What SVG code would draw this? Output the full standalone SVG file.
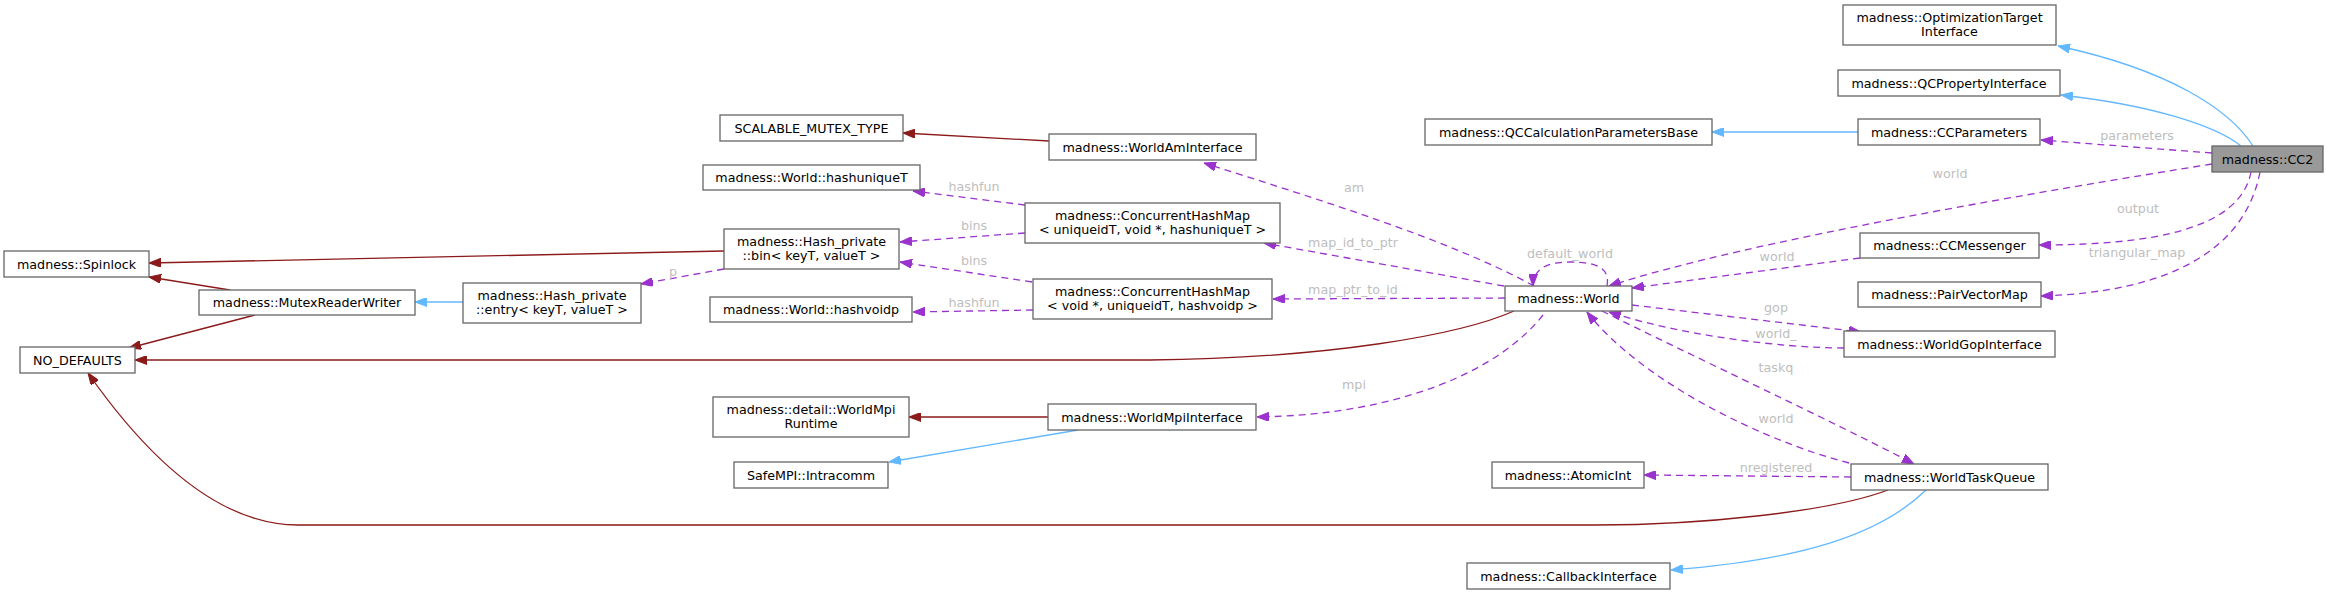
<svg xmlns="http://www.w3.org/2000/svg" width="2332" height="594" viewBox="0 0 2332 594">
<style>
.n rect{fill:#fff;stroke:#666;stroke-width:1.3}
.n text{font-family:"DejaVu Sans","Liberation Sans",sans-serif;font-size:12.7px;fill:#000;text-anchor:middle}
.e path{fill:none;stroke-width:1.3}
.pub{stroke:#63b8ff}
.prv{stroke:#8b1a1a}
.use{stroke:#9a32cd;stroke-dasharray:7,5}
.lbl{font-family:"DejaVu Sans","Liberation Sans",sans-serif;font-size:12.7px;fill:#bebebe;text-anchor:middle}
</style>
<defs>
<marker id="ab" viewBox="0 0 12 9" refX="12" refY="4.5" markerWidth="12" markerHeight="9" markerUnits="userSpaceOnUse" orient="auto"><path d="M0,0 L12,4.5 L0,9 z" fill="#63b8ff" stroke="#63b8ff"/></marker>
<marker id="ar" viewBox="0 0 12 9" refX="12" refY="4.5" markerWidth="12" markerHeight="9" markerUnits="userSpaceOnUse" orient="auto"><path d="M0,0 L12,4.5 L0,9 z" fill="#8b1a1a" stroke="#8b1a1a"/></marker>
<marker id="ap" viewBox="0 0 12 9" refX="12" refY="4.5" markerWidth="12" markerHeight="9" markerUnits="userSpaceOnUse" orient="auto"><path d="M0,0 L12,4.5 L0,9 z" fill="#9a32cd" stroke="#9a32cd"/></marker>
</defs>
<rect width="2332" height="594" fill="#fff"/>
<g id="edges" class="e">
<path class="pub" marker-end="url(#ab)" d="M2253,146 C2230,110 2170,70 2058,46"/>
<path class="pub" marker-end="url(#ab)" d="M2241,146 C2215,125 2150,105 2061,95"/>
<path class="pub" marker-end="url(#ab)" d="M1858,132 L1712,132"/>
<path class="pub" marker-end="url(#ab)" d="M1926,490 C1880,535 1800,560 1671,570"/>
<path class="pub" marker-end="url(#ab)" d="M463,302 L415,302"/>
<path class="pub" marker-end="url(#ab)" d="M1078,430 L889,462"/>
<path class="prv" marker-end="url(#ar)" d="M1888,490 C1830,512 1700,525 1596,525 L298,525 C240,525 170,490 88,373"/>
<path class="prv" marker-end="url(#ar)" d="M1514,311 C1460,335 1330,358 1150,360 L135,360"/>
<path class="prv" marker-end="url(#ar)" d="M255,315 L129,348"/>
<path class="prv" marker-end="url(#ar)" d="M230,290 L149,277"/>
<path class="prv" marker-end="url(#ar)" d="M724,251 L149,263"/>
<path class="prv" marker-end="url(#ar)" d="M1049,141 L903,133"/>
<path class="prv" marker-end="url(#ar)" d="M1048,417 L909,417"/>
<path class="use" marker-end="url(#ap)" d="M2212,153 L2041,140"/>
<path class="use" marker-end="url(#ap)" d="M2212,164 C2050,190 1750,240 1609,286"/>
<path class="use" marker-end="url(#ap)" d="M2251,172 C2240,230 2150,245 2039,245"/>
<path class="use" marker-end="url(#ap)" d="M2260,172 C2245,250 2170,292 2041,296"/>
<path class="use" marker-end="url(#ap)" d="M1860,258 L1632,288"/>
<path class="use" marker-end="url(#ap)" d="M1607,286 C1610,270 1600,262 1570,262 C1545,262 1533,270 1533,286"/>
<path class="use" marker-end="url(#ap)" d="M1632,305 L1861,332"/>
<path class="use" marker-end="url(#ap)" d="M1844,348 C1780,348 1680,335 1609,312"/>
<path class="use" marker-end="url(#ap)" d="M1602,311 C1680,350 1830,420 1914,464"/>
<path class="use" marker-end="url(#ap)" d="M1849,463 C1760,440 1640,380 1587,312"/>
<path class="use" marker-end="url(#ap)" d="M1851,477 L1644,475"/>
<path class="use" marker-end="url(#ap)" d="M724,269 L641,284"/>
<path class="use" marker-end="url(#ap)" d="M1534,286 C1450,240 1320,200 1204,163"/>
<path class="use" marker-end="url(#ap)" d="M1025,205 L913,191"/>
<path class="use" marker-end="url(#ap)" d="M1025,233 L900,242"/>
<path class="use" marker-end="url(#ap)" d="M1032,282 L900,262"/>
<path class="use" marker-end="url(#ap)" d="M1033,310 L913,312"/>
<path class="use" marker-end="url(#ap)" d="M1504,286 L1264,243"/>
<path class="use" marker-end="url(#ap)" d="M1505,298 L1273,299"/>
<path class="use" marker-end="url(#ap)" d="M1543,315 C1500,370 1400,415 1257,417"/>
<text class="lbl" x="2137" y="140">parameters</text>
<text class="lbl" x="1950" y="178">world</text>
<text class="lbl" x="2138" y="213">output</text>
<text class="lbl" x="2137" y="257">triangular_map</text>
<text class="lbl" x="1777" y="261">world</text>
<text class="lbl" x="1570" y="258">default_world</text>
<text class="lbl" x="1776" y="312">gop</text>
<text class="lbl" x="1776" y="338">world_</text>
<text class="lbl" x="1776" y="372">taskq</text>
<text class="lbl" x="1776" y="423">world</text>
<text class="lbl" x="1776" y="472">nregistered</text>
<text class="lbl" x="673" y="276">p</text>
<text class="lbl" x="1354" y="192">am</text>
<text class="lbl" x="974" y="191">hashfun</text>
<text class="lbl" x="974" y="230">bins</text>
<text class="lbl" x="974" y="265">bins</text>
<text class="lbl" x="974" y="307">hashfun</text>
<text class="lbl" x="1353" y="247">map_id_to_ptr</text>
<text class="lbl" x="1353" y="294">map_ptr_to_id</text>
<text class="lbl" x="1354" y="389">mpi</text>
</g>
<g id="node-oti" class="n"><rect x="1843" y="5" width="213" height="40"/><text x="1949.5" y="21.5">madness::OptimizationTarget</text><text x="1949.5" y="36">Interface</text></g>
<g id="node-qcprop" class="n"><rect x="1838" y="70" width="222" height="26"/><text x="1949" y="87.5">madness::QCPropertyInterface</text></g>
<g id="node-qccalc" class="n"><rect x="1425" y="119" width="287" height="26"/><text x="1568.5" y="136.5">madness::QCCalculationParametersBase</text></g>
<g id="node-ccparams" class="n"><rect x="1858" y="119" width="182" height="26"/><text x="1949" y="136.5">madness::CCParameters</text></g>
<g id="node-cc2" class="n"><rect x="2212" y="146" width="111" height="26" style="fill:#999"/><text x="2267.5" y="163.5">madness::CC2</text></g>
<g id="node-ccmessenger" class="n"><rect x="1860" y="233" width="179" height="25"/><text x="1949.5" y="250">madness::CCMessenger</text></g>
<g id="node-pairvectormap" class="n"><rect x="1858" y="282" width="183" height="25"/><text x="1949.5" y="299">madness::PairVectorMap</text></g>
<g id="node-world" class="n"><rect x="1505" y="286" width="127" height="25"/><text x="1568.5" y="303">madness::World</text></g>
<g id="node-worldgop" class="n"><rect x="1844" y="331" width="211" height="26"/><text x="1949.5" y="348.5">madness::WorldGopInterface</text></g>
<g id="node-atomicint" class="n"><rect x="1492" y="462" width="152" height="26"/><text x="1568" y="479.5">madness::AtomicInt</text></g>
<g id="node-worldtaskqueue" class="n"><rect x="1851" y="464" width="197" height="26"/><text x="1949.5" y="481.5">madness::WorldTaskQueue</text></g>
<g id="node-callback" class="n"><rect x="1467" y="563" width="203" height="26"/><text x="1568.5" y="580.5">madness::CallbackInterface</text></g>
<g id="node-worldmpi" class="n"><rect x="1048" y="404" width="208" height="26"/><text x="1152" y="421.5">madness::WorldMpiInterface</text></g>
<g id="node-mpiruntime" class="n"><rect x="713" y="397" width="196" height="40"/><text x="811" y="413.5">madness::detail::WorldMpi</text><text x="811" y="428">Runtime</text></g>
<g id="node-intracomm" class="n"><rect x="734" y="462" width="154" height="26"/><text x="811" y="479.5">SafeMPI::Intracomm</text></g>
<g id="node-scalable" class="n"><rect x="720" y="115" width="183" height="26"/><text x="811.5" y="132.5">SCALABLE_MUTEX_TYPE</text></g>
<g id="node-worldam" class="n"><rect x="1049" y="134" width="207" height="26"/><text x="1152.5" y="151.5">madness::WorldAmInterface</text></g>
<g id="node-hashuniquet" class="n"><rect x="703" y="165" width="217" height="25"/><text x="811.5" y="182">madness::World::hashuniqueT</text></g>
<g id="node-chm-uid" class="n"><rect x="1025" y="203" width="255" height="40"/><text x="1152.5" y="219.5">madness::ConcurrentHashMap</text><text x="1152.5" y="234">&lt; uniqueidT, void *, hashuniqueT &gt;</text></g>
<g id="node-bin" class="n"><rect x="724" y="229" width="175" height="40"/><text x="811.5" y="245.5">madness::Hash_private</text><text x="811.5" y="260">::bin&lt; keyT, valueT &gt;</text></g>
<g id="node-chm-void" class="n"><rect x="1033" y="279" width="239" height="40"/><text x="1152.5" y="295.5">madness::ConcurrentHashMap</text><text x="1152.5" y="310">&lt; void *, uniqueidT, hashvoidp &gt;</text></g>
<g id="node-hashvoidp" class="n"><rect x="710" y="297" width="202" height="25"/><text x="811" y="314">madness::World::hashvoidp</text></g>
<g id="node-spinlock" class="n"><rect x="4" y="251" width="145" height="26"/><text x="76.5" y="268.5">madness::Spinlock</text></g>
<g id="node-mutexrw" class="n"><rect x="199" y="290" width="216" height="25"/><text x="307" y="307">madness::MutexReaderWriter</text></g>
<g id="node-entry" class="n"><rect x="463" y="283" width="178" height="40"/><text x="552" y="299.5">madness::Hash_private</text><text x="552" y="314">::entry&lt; keyT, valueT &gt;</text></g>
<g id="node-nodefaults" class="n"><rect x="20" y="347" width="115" height="26"/><text x="77.5" y="364.5">NO_DEFAULTS</text></g>
</svg>
